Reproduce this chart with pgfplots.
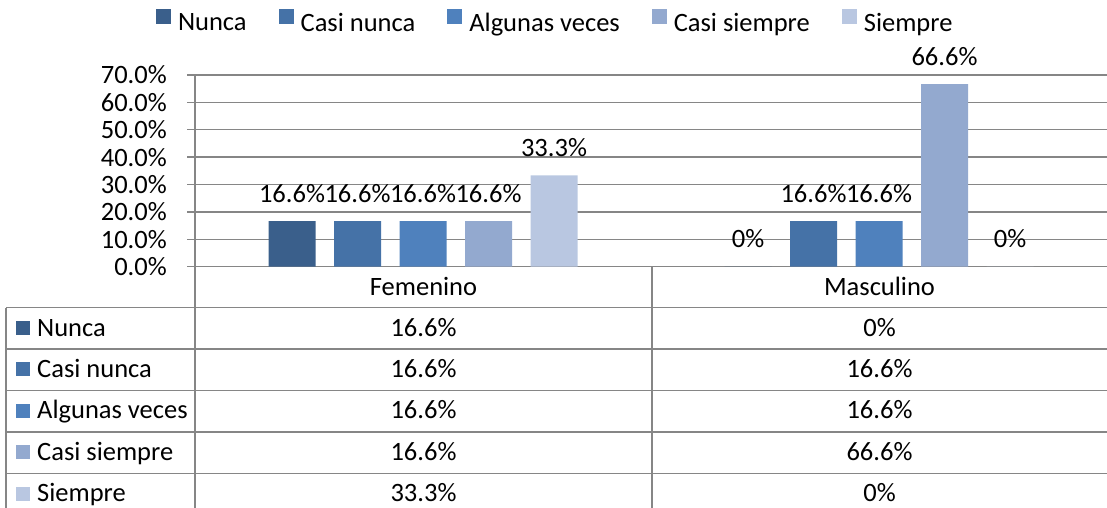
\documentclass[border=0pt]{standalone}
\usepackage{pgfplots}
\pgfplotsset{compat=1.18}
\usepackage{fontspec}
\setmainfont{Carlito}
\definecolor{cA}{HTML}{3A5F8B}
\definecolor{cB}{HTML}{4572A7}
\definecolor{cC}{HTML}{4F81BD}
\definecolor{cD}{HTML}{93A9CF}
\definecolor{cE}{HTML}{B9C7E1}
\definecolor{gridc}{HTML}{868686}
\newcommand{\fs}{\fontsize{26.5bp}{31bp}\selectfont}
\begin{document}
\fs
\begin{tikzpicture}
\useasboundingbox (0,0) rectangle (1107bp,-508bp);
\begin{axis}[
  at={(195bp,-266.7bp)}, anchor=south west,
  scale only axis, width=912bp, height=191.8bp,
  xmin=-0.5, xmax=1.5, ymin=0, ymax=70,
  xtick=\empty,
  ytick={0,10,20,30,40,50,60,70},
  yticklabels={0.0\%,10.0\%,20.0\%,30.0\%,40.0\%,50.0\%,60.0\%,70.0\%},
  ymajorgrids, grid style={draw=gridc, line width=1.5bp},
  axis x line*=bottom, axis y line*=left,
  axis line style={draw=gridc, line width=1.5bp, -},
  major tick style={draw=gridc, line width=1.5bp},
  tick align=outside, major tick length=8bp,
  yticklabel style={font=\fs, inner sep=0pt, anchor=east, xshift=-20bp},
  ybar, bar width=47bp,
  point meta=explicit symbolic,
  nodes near coords,
  every node near coord/.append style={font=\fs, anchor=base, yshift=19bp, text=black, inner sep=0pt},
  legend columns=-1,
  legend style={at={(axis description cs:-0.04276,1.2758)}, anchor=west, draw=none, fill=none,
    inner sep=0pt, outer sep=0pt, font=\fs,
    nodes={inner sep=0pt, outer sep=0pt},
    /tikz/every odd column/.append style={column sep=7bp},
    /tikz/every even column/.append style={column sep=32bp}},
  clip=false,
]
\addplot[fill=cA, draw=none, bar shift=-131bp, legend image code/.code={\fill[cA] (0bp,0.5bp) rectangle (15bp,15.5bp);}]
  coordinates {(0,16.6) [16.6\%] (1,0) [0\%]};
\addplot[fill=cB, draw=none, bar shift=-65.5bp, legend image code/.code={\fill[cB] (0bp,0.5bp) rectangle (15bp,15.5bp);}]
  coordinates {(0,16.6) [16.6\%] (1,16.6) [16.6\%]};
\addplot[fill=cC, draw=none, bar shift=0bp, legend image code/.code={\fill[cC] (0bp,0.5bp) rectangle (15bp,15.5bp);}]
  coordinates {(0,16.6) [16.6\%] (1,16.6) [16.6\%]};
\addplot[fill=cD, draw=none, bar shift=65.5bp, legend image code/.code={\fill[cD] (0bp,0.5bp) rectangle (15bp,15.5bp);}]
  coordinates {(0,16.6) [16.6\%] (1,66.6) [66.6\%]};
\addplot[fill=cE, draw=none, bar shift=131bp, legend image code/.code={\fill[cE] (0bp,0.5bp) rectangle (15bp,15.5bp);}]
  coordinates {(0,33.3) [33.3\%] (1,0) [0\%]};
\legend{Nunca,Casi nunca,Algunas veces,Casi siempre,Siempre}
\end{axis}
% data table
\begin{scope}[line width=1.5bp, draw=gridc]
\draw[gridc] (195bp,-266.7bp) -- (195bp,-508bp);
\draw[gridc] (652bp,-266.7bp) -- (652bp,-508bp);
\draw[gridc] (6bp,-307.5bp) -- (6bp,-508bp);
\foreach \yy in {307.5,349.0,390.6,432.0,473.6}{
  \draw[gridc] (6bp,-\yy bp) -- (1107bp,-\yy bp);
}
\end{scope}
\node[anchor=base, inner sep=0pt] at (423.5bp,-295.5bp) {Femenino};
\node[anchor=base, inner sep=0pt] at (879.5bp,-295.5bp) {Masculino};
\foreach \lab/\col/\f/\m [count=\i from 0] in {Nunca/cA/16.6/0,Casi nunca/cB/16.6/16.6,Algunas veces/cC/16.6/16.6,Casi siempre/cD/16.6/66.6,Siempre/cE/33.3/0}{
  \pgfmathsetmacro{\bl}{336+41.4*\i}
  \fill[\col] (16bp,-\bl bp+1bp) rectangle (30bp,-\bl bp+15bp);
  \node[anchor=base west, inner sep=0pt] at (37bp,-\bl bp) {\lab};
  \node[anchor=base, inner sep=0pt] at (423.5bp,-\bl bp) {\f\%};
  \node[anchor=base, inner sep=0pt] at (879.5bp,-\bl bp) {\m\%};
}
\end{tikzpicture}
\end{document}
